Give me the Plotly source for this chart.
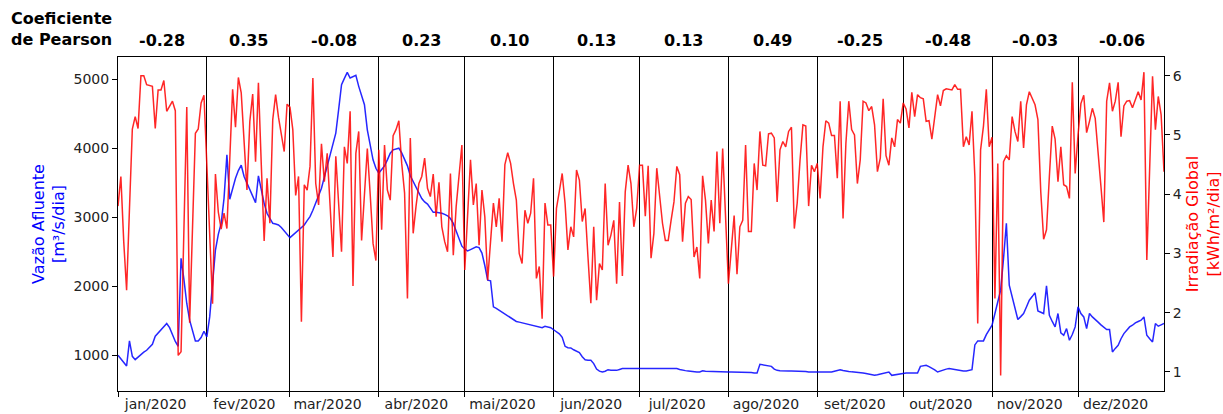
import pandas as pd
import plotly.graph_objects as go

# ---------------- data ----------------
dias = pd.date_range("2020-01-01", "2020-12-31", freq="D")

vazao = [
    # jan
    1000, 950, 900, 845, 1208, 985, 937, 975, 1015, 1045, 1073, 1115, 1160, 1276, 1320, 1363,
    1410, 1460, 1400, 1300, 1200, 1130, 2403, 2100, 1750, 1508, 1350, 1208, 1208, 1256, 1348,
    # fev
    1266, 1556, 2040, 2524, 2750, 2910, 3273, 3902, 3259, 3420, 3564, 3675, 3752, 3588, 3491,
    3400, 3300, 3211, 3597, 3400, 3200, 3056, 2980, 2911, 2900, 2887, 2850, 2800, 2750,
    # mar
    2703, 2740, 2775, 2810, 2850, 2887, 2950, 3007, 3100, 3200, 3298, 3420, 3580, 3730, 3878,
    4050, 4217, 4560, 4918, 5010, 5097, 5015, 5040, 5053, 4894, 4760, 4628, 4265, 4047, 3830, 3708,
    # abr
    3636, 3690, 3743, 3830, 3926, 3975, 3990, 3999, 3930, 3830, 3743, 3600, 3520, 3430, 3340,
    3270, 3220, 3190, 3130, 3070, 3070, 3065, 3056, 3040, 3020, 2980, 2910, 2800, 2690, 2580,
    # mai
    2540, 2510, 2530, 2550, 2570, 2560, 2480, 2300, 2088, 2079, 1701, 1680, 1653, 1620, 1590,
    1560, 1540, 1515, 1490, 1480, 1470, 1460, 1450, 1440, 1435, 1430, 1410, 1400, 1420, 1415, 1400,
    # jun
    1370, 1340, 1310, 1260, 1130, 1110, 1106, 1080, 1058, 1040, 980, 935, 930, 927, 880,
    800, 770, 760, 770, 792, 785, 782, 782, 795, 807, 807, 807, 807, 807, 807,
    # jul
    807, 807, 807, 807, 807, 807, 807, 807, 807, 807, 807, 807, 807, 807, 795, 782,
    778, 773, 765, 758, 758, 758, 775, 770, 768, 760, 760, 760, 760, 760, 760,
    # ago
    758, 758, 758, 758, 758, 758, 758, 758, 752, 745, 744, 870, 862, 855, 848, 840,
    800, 782, 778, 773, 773, 773, 773, 773, 773, 773, 773, 765, 758, 758, 758,
    # set
    758, 758, 758, 758, 758, 758, 770, 785, 792, 780, 768, 765, 760, 758, 752,
    748, 744, 735, 724, 717, 710, 718, 726, 734, 750, 758, 710, 717, 724, 734,
    # out
    744, 744, 744, 744, 744, 744, 840, 850, 855, 835, 816, 790, 758, 775, 792, 800,
    807, 800, 790, 780, 773, 773, 773, 780, 792, 1150, 1208, 1208, 1208, 1300, 1363,
    # nov
    1435, 1605, 1780, 1943, 2400, 2910, 2016, 1846, 1680, 1518, 1560, 1605, 1700, 1798, 1850,
    1905, 1643, 1620, 1605, 2006, 1580, 1490, 1411, 1605, 1324, 1290, 1387, 1218, 1300, 1411,
    # dez
    1701, 1605, 1556, 1387, 1605, 1556, 1510, 1480, 1440, 1400, 1372, 1372, 1048, 1100, 1145, 1240,
    1314, 1363, 1411, 1435, 1470, 1490, 1508, 1556, 1290, 1240, 1193, 1460, 1421, 1440, 1460,
]

irradiacao = [
    # jan
    3.8, 4.3, 3.2, 2.38, 3.75, 5.10, 5.31, 5.11, 6.00, 6.00, 5.85, 5.83, 5.82, 5.11, 5.76, 5.76,
    5.92, 5.40, 5.48, 5.57, 5.41, 1.28, 1.34, 3.4, 5.47, 1.83, 3.43, 5.03, 5.10, 5.54, 5.67,
    # fev
    4.5, 3.3, 2.15, 4.34, 3.7, 3.41, 3.68, 3.42, 4.6, 5.77, 5.13, 5.97, 5.71, 4.9, 4.07,
    5.23, 5.69, 4.55, 5.88, 4.5, 3.21, 4.27, 3.51, 5.26, 5.68, 5.3, 5.0, 4.72, 5.52,
    # mar
    5.47, 5.09, 3.98, 4.30, 1.85, 4.16, 4.07, 4.47, 5.96, 4.18, 3.82, 4.85, 4.21, 4.69, 3.8, 2.94,
    4.64, 3.8, 3.03, 4.80, 4.52, 5.40, 2.45, 4.69, 5.06, 3.22, 4.0, 4.77, 4.0, 3.17, 2.88,
    # abr
    4.75, 3.40, 4.83, 4.07, 3.90, 4.99, 5.09, 5.24, 4.52, 4.02, 2.24, 4.95, 3.34, 3.8, 4.18,
    4.3, 4.61, 4.10, 3.96, 4.34, 3.62, 4.20, 3.45, 3.2, 3.03, 4.35, 2.97, 3.79, 4.3, 4.83,
    # mai
    2.72, 3.7, 4.58, 3.82, 4.18, 3.14, 4.07, 3.62, 2.55, 3.2, 3.85, 3.45, 3.93, 3.20, 4.50, 4.70,
    4.52, 4.18, 3.90, 3.00, 2.83, 3.73, 3.51, 3.68, 4.27, 2.58, 2.78, 1.90, 3.85, 3.48, 3.48,
    # jun
    2.61, 3.76, 4.05, 4.35, 3.85, 3.06, 3.45, 3.28, 4.41, 4.24, 3.54, 3.76, 2.94, 2.16, 3.45,
    2.21, 2.83, 2.72, 4.18, 3.14, 3.31, 3.56, 2.49, 3.87, 2.62, 4.04, 4.49, 4.18, 3.45, 3.76,
    # jul
    4.49, 4.49, 3.63, 4.48, 2.92, 3.34, 4.44, 3.96, 3.51, 3.22, 3.22, 3.56, 3.87, 4.47, 4.33, 3.20,
    3.85, 3.96, 3.91, 2.94, 3.11, 2.58, 4.31, 3.90, 3.17, 3.90, 3.37, 4.72, 3.51, 4.77, 3.51,
    # ago
    2.49, 3.06, 3.64, 2.65, 3.45, 3.56, 4.83, 3.37, 3.37, 4.52, 4.07, 5.06, 4.49, 4.48, 5.02, 5.03,
    4.95, 3.87, 4.75, 4.89, 4.80, 5.06, 5.13, 3.42, 3.85, 4.58, 5.17, 5.15, 3.80, 4.49, 4.38,
    # set
    4.52, 3.93, 4.80, 5.24, 5.20, 4.99, 4.99, 4.27, 5.57, 3.59, 4.86, 5.57, 5.09, 5.00, 4.18,
    4.58, 5.57, 5.54, 5.41, 5.48, 5.17, 4.38, 4.61, 5.61, 4.65, 4.49, 4.95, 4.80, 5.26, 5.20,
    # out
    5.54, 5.44, 5.12, 5.72, 5.31, 5.68, 5.63, 5.61, 5.23, 5.24, 4.93, 5.31, 5.68, 5.49, 5.75, 5.78,
    5.77, 5.76, 5.85, 5.77, 5.77, 4.80, 4.97, 4.83, 5.40, 4.30, 1.82, 4.75, 5.15, 5.77, 4.80,
    # nov
    4.96, 2.24, 4.52, 0.94, 4.55, 4.65, 4.58, 5.31, 5.06, 4.89, 5.57, 4.78, 5.51, 5.73, 5.62,
    5.51, 5.26, 4.04, 3.24, 3.40, 4.30, 5.15, 4.93, 4.21, 4.80, 4.16, 4.13, 3.93, 5.89, 4.35,
    # dez
    5.00, 5.53, 5.67, 5.04, 5.23, 5.45, 5.28, 4.75, 4.13, 3.53, 5.57, 5.88, 5.40, 5.57, 5.89, 4.97,
    5.49, 5.57, 5.58, 5.46, 5.59, 5.73, 5.59, 6.06, 2.89, 4.4, 5.99, 5.09, 5.65, 5.34, 4.38,
]

meses = ["jan/2020", "fev/2020", "mar/2020", "abr/2020", "mai/2020", "jun/2020",
         "jul/2020", "ago/2020", "set/2020", "out/2020", "nov/2020", "dez/2020"]
pearson = [-0.28, 0.35, -0.08, 0.23, 0.10, 0.13, 0.13, 0.49, -0.25, -0.48, -0.03, -0.06]

# ---------------- derived positions ----------------
inicio = pd.date_range("2020-01-01", "2020-12-01", freq="MS")
proximo = pd.date_range("2020-02-01", "2021-01-01", freq="MS")
meio = inicio + (proximo - inicio) / 2
rotulos_pos = inicio + pd.Timedelta(days=13, hours=3)

fmt = lambda d: d.strftime("%Y-%m-%d %H:%M:%S")

FONT = "DejaVu Sans"

fig = go.Figure()
fig.add_trace(go.Scatter(x=dias, y=vazao, mode="lines",
                         line=dict(color="rgba(0,0,255,0.85)", width=1.5),
                         yaxis="y", hoverinfo="skip"))
fig.add_trace(go.Scatter(x=dias, y=irradiacao, mode="lines",
                         line=dict(color="rgba(255,0,0,0.85)", width=1.5),
                         yaxis="y2", hoverinfo="skip"))

annotations = []
for pos, r in zip(meio, pearson):
    annotations.append(dict(x=fmt(pos), xref="x", y=1.0494, yref="paper",
                            text=f"<b>{r:.2f}</b>", showarrow=False,
                            font=dict(family=FONT, size=16, color="black"),
                            xanchor="center", yanchor="middle"))
annotations.append(dict(x=-0.1043, xref="paper", y=1.018, yref="paper",
                        text="<b>Coeficiente</b><br><b>de Pearson</b>", showarrow=False,
                        align="left",
                        font=dict(family=FONT, size=16, color="black"),
                        xanchor="left", yanchor="bottom"))

fig.update_layout(
    width=1223, height=414,
    margin=dict(l=118, r=59, t=57, b=23, pad=0, autoexpand=False),
    paper_bgcolor="white", plot_bgcolor="white",
    showlegend=False,
    font=dict(family=FONT, size=14, color="#222"),
    annotations=annotations,
    xaxis=dict(
        type="date", range=[fmt(dias[0]), fmt(dias[-1])],
        automargin=False,
        showgrid=False, zeroline=False,
        showline=True, linecolor="black", linewidth=1, mirror=True,
        tickmode="array", tickvals=[fmt(d) for d in rotulos_pos], ticktext=meses,
        ticks="", tickfont=dict(family=FONT, size=14, color="#222"),
        minor=dict(tickmode="array", tickvals=[fmt(d) for d in inicio],
                   ticks="outside", ticklen=5, tickwidth=1, tickcolor="black",
                   showgrid=True, gridcolor="black", gridwidth=1),
    ),
    yaxis=dict(
        range=[483, 5319], tickmode="array", tickvals=[1000, 2000, 3000, 4000, 5000],
        automargin=False,
        ticks="outside", ticklen=5, tickwidth=1, tickcolor="black",
        showgrid=False, zeroline=False,
        showline=True, linecolor="black", linewidth=1, mirror=True,
        tickfont=dict(family=FONT, size=14, color="#222"),
        title=dict(text="Vazão Afluente<br>[m³/s/dia]",
                   font=dict(family=FONT, size=16, color="blue"), standoff=4),
    ),
    yaxis2=dict(
        overlaying="y", side="right",
        automargin=False,
        range=[0.679, 6.316], tickmode="array", tickvals=[1, 2, 3, 4, 5, 6],
        ticks="outside", ticklen=5, tickwidth=1, tickcolor="black",
        showgrid=False, zeroline=False,
        showline=True, linecolor="black", linewidth=1,
        tickfont=dict(family=FONT, size=14, color="#222"),
        title=dict(text="Irradiação Global<br>[kWh/m²/dia]",
                   font=dict(family=FONT, size=16, color="red"), standoff=8),
    ),
)

fig.write_html("out.html")
